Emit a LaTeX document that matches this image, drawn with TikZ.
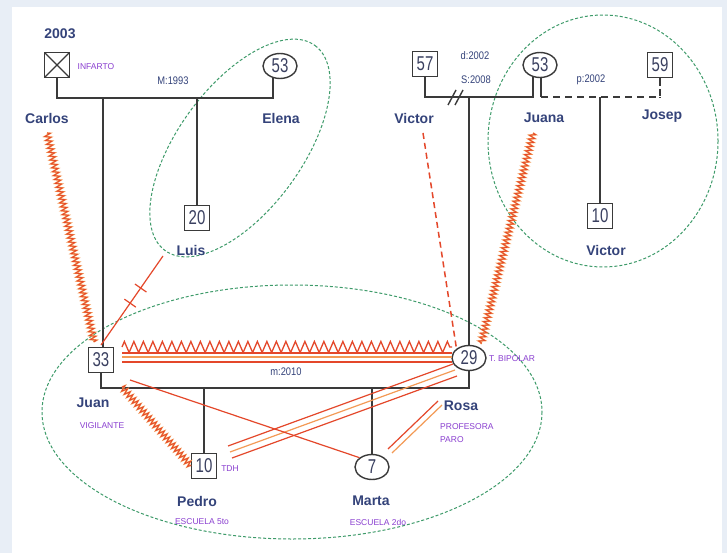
\documentclass[tikz,border=0pt]{standalone}
\usepackage{fontspec}
\setmainfont{Liberation Sans}
\newfontfamily\numfont[FakeStretch=0.75]{Liberation Sans}
\newfontfamily\datefont[FakeStretch=0.85]{Liberation Sans}
\usetikzlibrary{shapes.geometric,decorations.pathmorphing,decorations.markings,calc}
\definecolor{bgc}{HTML}{E8EEF6}
\definecolor{linec}{HTML}{3A3A3A}
\definecolor{numc}{HTML}{3A4060}
\definecolor{namec}{HTML}{34437A}
\definecolor{notec}{HTML}{8A3FD0}
\definecolor{datec}{HTML}{34437A}
\definecolor{relc}{HTML}{E4472A}
\definecolor{relo}{HTML}{F39A55}
\definecolor{grpc}{HTML}{3E9B6A}
\begin{document}
\begin{tikzpicture}[x=1pt,y=-1pt,
  sq/.style={draw=linec, line width=1.4pt, fill=white, minimum size=25pt, inner sep=0pt,
    font=\numfont\fontsize{20}{20}\selectfont, text=numc},
  circ/.style={ellipse, draw=linec, line width=1.4pt, fill=white, minimum width=34pt,
    minimum height=25pt, inner sep=0pt, font=\numfont\fontsize{20}{20}\selectfont, text=numc},
  pname/.style={font=\bfseries\fontsize{14}{14}\selectfont, text=namec, inner sep=0pt},
  note/.style={font=\fontsize{8.5}{9}\selectfont, text=notec, inner sep=0pt},
  datel/.style={font=\datefont\fontsize{11}{11}\selectfont, text=datec, inner sep=0pt},
  gen/.style={draw=linec, line width=1.4pt},
  grp/.style={draw=grpc, line width=1pt, dash pattern=on 3pt off 2pt},
  zz/.style={decorate, decoration={zigzag, segment length=4pt, amplitude=3pt}},
  rel/.style={draw=relc, line width=1.2pt},
  relor/.style={draw=relo, line width=1.4pt},
]
\useasboundingbox (0,0) rectangle (727,553);
\fill[bgc] (0,0) rectangle (727,553);
\fill[white] (12,7) rectangle (722,553);

% group ellipses
\draw[grp, rotate around={53.8:(240,148)}] (240,148) ellipse [x radius=127, y radius=62];
\draw[grp] (603,141) ellipse [x radius=115, y radius=126];
\draw[grp] (292,412) ellipse [x radius=250, y radius=127];

% persons
\node[sq, path picture={\draw[linec, line width=1.2pt]
   (path picture bounding box.north west) -- (path picture bounding box.south east)
   (path picture bounding box.south west) -- (path picture bounding box.north east);}]
   (carlos) at (57,65) {};
\node[circ] (elena) at (280,66) {53};
\node[sq] (luis) at (197,218) {20};
\node[sq] (v57) at (425,64) {57};
\node[circ] (juana) at (540,65) {53};
\node[sq] (josep) at (660,65) {59};
\node[sq] (v10) at (600,216) {10};
\node[sq] (juan) at (101,360) {33};
\node[circ] (rosa) at (469,358) {29};
\node[sq] (pedro) at (204,466) {10};
\node[circ] (marta) at (372,467) {7};

% genealogy lines
\coordinate (m1) at (57,98);
\coordinate (m2) at (425,97);
\coordinate (m3) at (541,97);
\coordinate (m4) at (101,388);
\draw[gen] (carlos.south) -- (m1) -- (273,98) -- (273,77.5);
\draw[gen] (103,98) -- (juan.north -| 103,0);
\draw[gen] (luis.north |- m1) -- (luis.north);
\draw[gen] (v57.south) -- (m2) -- (533,97) -- (533,76.5);
\draw[gen] (541,77.5) -- (m3);
\draw[draw=linec, line width=2pt, dash pattern=on 7pt off 5pt] (m3) -- (josep.south |- m3) -- (josep.south);
\draw[gen] (josep.south |- m3) -- ++(0,0.1);
\draw[gen] (josep.south) -- ++(0,8);
\draw[gen] (v10.north |- m3) -- (v10.north);
\draw[gen] (rosa.north |- m2) -- (rosa.north);
\draw[gen] (448,105) -- (456,90);
\draw[gen] (455,105) -- (463,90);
\draw[gen] (juan.south) -- (m4) -- (rosa.south |- m4) -- (rosa.south);
\draw[gen] (pedro.north |- m4) -- (pedro.north);
\draw[gen] (marta.north |- m4) -- (marta.north);

% relationship lines
\coordinate (cz) at (47,133);
\coordinate (jz) at (94,342);
\draw[relor, zz, line width=1.6pt] (cz) -- (jz);
\draw[rel, zz, line width=0.7pt] (cz) -- (jz);

\coordinate (lc) at (163,256);
\coordinate (jc) at (101,345);
\draw[rel, postaction={decorate}, decoration={markings,
   mark=at position 0.36 with {\draw[relc, line width=1.2pt] (0,-7pt) -- (0,7pt);},
   mark=at position 0.53 with {\draw[relc, line width=1.2pt] (0,-7pt) -- (0,7pt);}}] (lc) -- (jc);

\coordinate (vd) at (423,133);
\draw[rel, line width=1.5pt, dash pattern=on 6pt off 4pt] (vd) -- (rosa.north west);

\coordinate (jnz) at (533,133);
\draw[relor, zz, line width=1.6pt] (jnz) -- (481,344);
\draw[rel, zz, line width=0.7pt] (jnz) -- (481,344);

% Juan - Rosa band
\coordinate (bL) at (122,347);
\coordinate (bR) at (452,347);
\draw[relc, line width=1.3pt, decorate, decoration={zigzag, segment length=9.5pt, amplitude=5.5pt}] (bL) -- (bR);
\draw[relc, line width=1.3pt] ($(bL)+(0,6)$) -- ($(bR)+(0,6)$);
\draw[relo, line width=1.2pt] ($(bL)+(0,10)$) -- ($(bR)+(0,10)$);
\draw[relc, line width=1.4pt] ($(bL)+(0,15)$) -- ($(bR)+(0,15)$);

% Rosa - Pedro triple
\draw[relc, line width=1.2pt] (228,446) -- (453,364);
\draw[relo, line width=1.2pt] (230,452) -- (455,370);
\draw[relc, line width=1.2pt] (232,458) -- (457,376);

% Juan - Marta
\draw[rel] (130,380) -- (marta.north west);

% Juan - Pedro zigzag
\coordinate (jpz) at (122,387);
\draw[relor, zz, line width=1.6pt] (jpz) -- (pedro.west);
\draw[rel, zz, line width=0.7pt] (jpz) -- (pedro.west);

% Rosa - Marta double
\draw[relc, line width=1.2pt] (438,401) -- (388,449);
\draw[relo, line width=1.2pt] (442,405) -- (392,453);

% labels
\node[pname] at (60,34) {2003};
\node[note] at (96,67) {INFARTO};
\node[datel] at (173,81) {M:1993};
\node[pname] at (47,118) {Carlos};
\node[pname] at (281,118) {Elena};
\node[pname] at (191,250) {Luis};
\node[pname] at (414,118) {Victor};
\node[pname] at (544,118) {Juana};
\node[pname] at (662,116) {Josep};
\node[pname] at (606,250) {Victor};
\node[datel] at (475,56) {d:2002};
\node[datel] at (476,80) {S:2008};
\node[datel] at (591,80) {p:2002};
\node[datel] at (286,372) {m:2010};
\node[pname] at (93,403) {Juan};
\node[note] at (102,426) {VIGILANTE};
\node[pname] at (197,501) {Pedro};
\node[note] at (202,522) {ESCUELA 5to};
\node[note] at (230,469) {TDH};
\node[pname] at (371,501) {Marta};
\node[note] at (378,522) {ESCUELA 2do};
\node[pname] at (461,406) {Rosa};
\node[note, anchor=west] at (440,427) {PROFESORA};
\node[note, anchor=west] at (440,440) {PARO};
\node[note, anchor=west] at (489,359) {T. BIPOLAR};
\end{tikzpicture}
\end{document}
